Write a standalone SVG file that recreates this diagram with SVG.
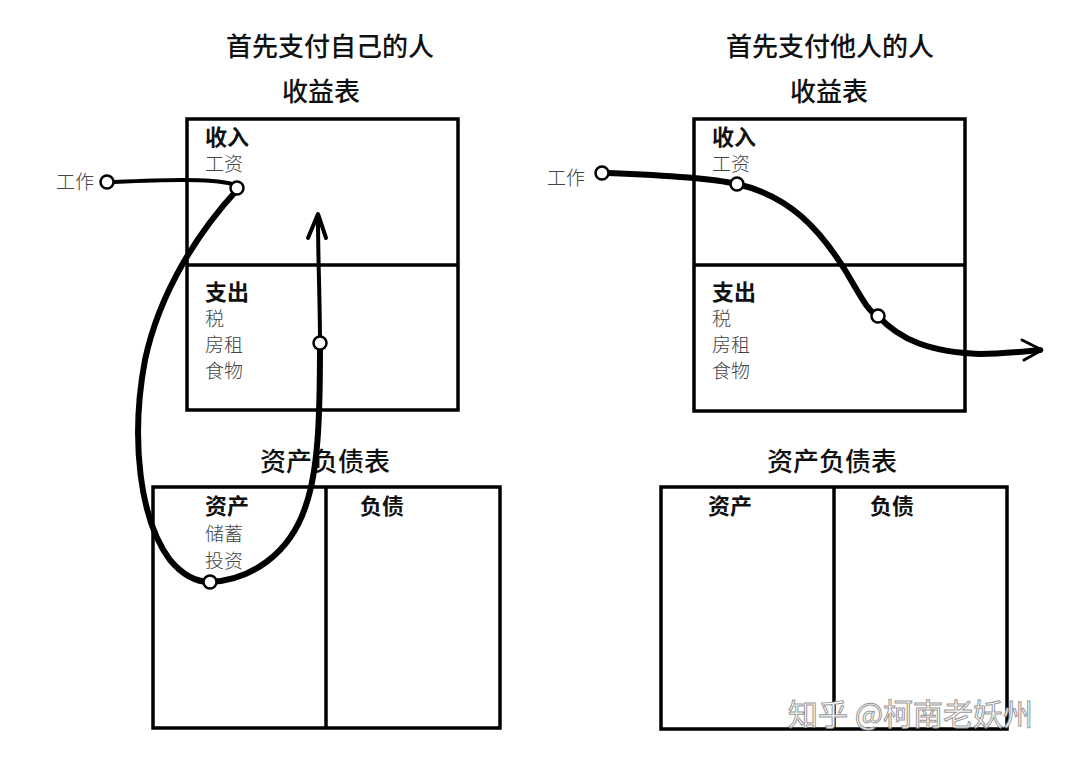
<svg xmlns="http://www.w3.org/2000/svg" width="1080" height="760" viewBox="0 0 1080 760">
<style>
.box{fill:none;stroke:#000;stroke-width:3.5}
.ttl{font-family:"Noto Sans CJK SC","Liberation Sans",sans-serif;font-size:26px;font-weight:500;fill:#111;text-anchor:middle}
.hd{font-family:"Noto Sans CJK SC","Liberation Sans",sans-serif;font-size:22px;font-weight:700;fill:#111}
.sub{font-family:"Noto Sans CJK SC","Liberation Sans",sans-serif;font-size:19px;font-weight:300;fill:#444}
.flow{fill:none;stroke:#000;stroke-linecap:round;stroke-linejoin:round}
.dot{fill:#fff;stroke:#000;stroke-width:2.5}
.wm{font-family:"Noto Sans CJK SC","Liberation Sans",sans-serif;font-size:30px;fill:#fff;stroke:#999;stroke-width:1}
</style>
<rect width="1080" height="760" fill="#fff"/>

<g id="left-title">
<text class="ttl" x="330" y="56">首先支付自己的人</text>
<text class="ttl" x="321" y="101">收益表</text>
</g>
<g id="left-income">
<rect class="box" x="187" y="119" width="271" height="291"/>
<line class="box" x1="187" y1="265" x2="458" y2="265"/>
<text class="hd" x="205" y="145">收入</text>
<text class="sub" x="205" y="171">工资</text>
<text class="hd" x="205" y="300">支出</text>
<text class="sub" x="205" y="326">税</text>
<text class="sub" x="205" y="352">房租</text>
<text class="sub" x="205" y="378">食物</text>
</g>
<g id="left-balance">
<text class="ttl" x="325" y="471">资产负债表</text>
<rect class="box" x="153" y="487" width="347" height="241"/>
<line class="box" x1="326" y1="487" x2="326" y2="728"/>
<text class="hd" x="205" y="514">资产</text>
<text class="sub" x="205" y="541">储蓄</text>
<text class="sub" x="205" y="568">投资</text>
<text class="hd" x="360" y="514">负债</text>
</g>
<g id="left-work">
<text class="sub" x="56" y="189">工作</text>
</g>

<g id="right-title">
<text class="ttl" x="830" y="56">首先支付他人的人</text>
<text class="ttl" x="829" y="101">收益表</text>
</g>
<g id="right-income">
<rect class="box" x="694" y="119" width="271" height="292"/>
<line class="box" x1="694" y1="265" x2="965" y2="265"/>
<text class="hd" x="712" y="145">收入</text>
<text class="sub" x="712" y="171">工资</text>
<text class="hd" x="712" y="300">支出</text>
<text class="sub" x="712" y="326">税</text>
<text class="sub" x="712" y="352">房租</text>
<text class="sub" x="712" y="378">食物</text>
</g>
<g id="right-balance">
<text class="ttl" x="832" y="471">资产负债表</text>
<rect class="box" x="661" y="487" width="346" height="242"/>
<line class="box" x1="834" y1="487" x2="834" y2="729"/>
<text class="hd" x="708" y="514">资产</text>
<text class="hd" x="870" y="514">负债</text>
</g>
<g id="right-work">
<text class="sub" x="547" y="185">工作</text>
</g>

<g id="connectors">
<path class="flow" stroke-width="4" d="M114,182 C160,180 210,178 232,184"/>
<path class="flow" stroke-width="6" d="M237,190 C200,230 160,290 145,360 C130,440 140,520 170,560 C185,578 200,582 210,582 C250,580 290,555 306,505 C318,470 320,420 320,345"/>
<path class="flow" stroke-width="4" d="M320,345 C320,300 318,260 318,218"/>
<path class="flow" stroke-width="4" d="M308,238 L318,214 L326,238"/>
<path class="flow" stroke-width="6" d="M608,173 C660,175 710,178 737,184 C790,196 820,230 845,270 C860,295 868,312 878,316"/>
<path class="flow" stroke-width="6" d="M878,316 C900,340 930,352 980,354 C1000,354 1020,352 1040,350"/>
<path class="flow" stroke-width="3" d="M1022,340 L1042,350 L1024,360"/>
<circle class="dot" cx="107" cy="182" r="6.5"/>
<circle class="dot" cx="237" cy="188" r="6.5"/>
<circle class="dot" cx="210" cy="582" r="6.5"/>
<circle class="dot" cx="320" cy="343" r="6.5"/>
<circle class="dot" cx="602" cy="173" r="6.5"/>
<circle class="dot" cx="737" cy="184" r="6.5"/>
<circle class="dot" cx="878" cy="316" r="6.5"/>
</g>

<text class="wm" x="788" y="725">知乎 @柯南老妖州</text>
</svg>
